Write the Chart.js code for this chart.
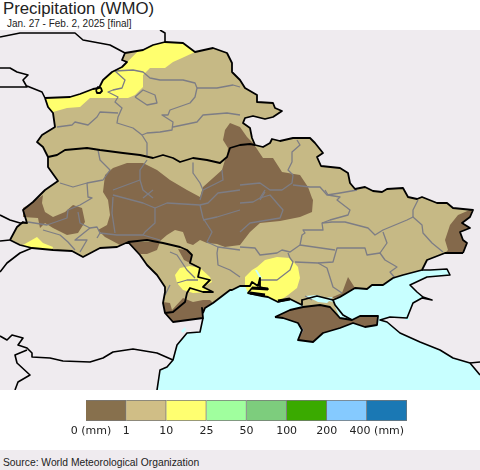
<!DOCTYPE html>
<html>
<head>
<meta charset="utf-8">
<title>Precipitation (WMO)</title>
<script src="https://cdn.jsdelivr.net/npm/chart.js@4"></script>
<style>
html,body{margin:0;padding:0;background:#fff;}
#page{position:relative;width:480px;height:470px;overflow:hidden;font-family:"Liberation Sans",Arial,sans-serif;color:#222;}
#page canvas{position:absolute;}
#mapChart{left:0;top:30px;background:#efebef;}
#keyChart{left:60px;top:395px;}
#title{position:absolute;left:3px;top:-3px;font-size:16.8px;line-height:24px;}
#period{position:absolute;left:7px;top:17px;font-size:10px;line-height:14px;}
#footer{position:absolute;left:0;top:450px;width:480px;height:20px;background:#efebef;}
#source{position:absolute;left:3px;top:456px;font-size:10.3px;line-height:14px;}
</style>
</head>
<body>
<div id="page">
  <div id="title">Precipitation (WMO)</div>
  <div id="period">Jan. 27 - Feb. 2, 2025 [final]</div>
  <canvas id="mapChart" width="480" height="360"></canvas>
  <canvas id="keyChart" width="360" height="55"></canvas>
  <div id="footer"></div>
  <div id="source">Source: World Meteorological Organization</div>
</div>
<script>
// key categories
const binLabels = ["0 (mm)","1","10","25","50","100","200","400 (mm)"];
const binColors = ["#87704d","#d0be86","#ffff70","#a0ff9e","#7dcd7d","#3aaa00","#85caff","#1a78b4"];
const binWidths = [1,1,1,1,1,1,1,1];

// map colours
const LAND_TAN = "#c6b985", DRY_BROWN = "#84694b", WET_YELLOW = "#ffff6e", SEA = "#c8ffff";

// outlines, map units
const borderNorth = [[45,98],[70,97],[80,94],[93,89],[99,88],[103,80],[112,72],[122,67],[127,62],[122,60],[125,53],[143,50],[153,45],[165,42],[183,43],[195,52],[213,48],[227,53],[232,63],[232,72],[238,78],[240,80],[245,88],[257,95],[257,102],[273,103],[275,108],[282,111],[273,117],[265,119],[253,116],[245,118],[243,123],[250,128],[252,138],[255,145],[263,147],[270,143],[272,139],[280,141],[293,138],[310,138],[315,143],[323,153],[317,157],[321,166],[340,168],[348,173],[350,183],[355,189],[365,187],[373,191],[382,192],[387,189],[403,188],[408,197],[417,199],[422,197],[437,203],[447,203],[453,208],[473,210],[470,217],[462,223],[470,228],[460,232],[463,240],[467,243],[463,253]];
const coastSouth = [[463,253],[445,253],[427,260],[422,270],[403,275],[393,278],[383,285],[372,285],[367,289],[355,288],[340,297],[333,300],[325,298],[317,296],[302,300],[302,305],[290,299],[278,302],[268,297],[262,296],[248,293],[252,288],[268,289],[260,287],[260,278],[258,286],[252,282],[250,286],[240,286],[232,290],[230,290],[213,303],[205,308],[203,313],[202,308],[203,318],[173,322],[165,313],[163,303],[165,292],[165,287],[157,275],[147,265],[140,255],[128,242],[117,247],[100,248],[83,257],[72,251],[53,250],[32,248],[20,245],[10,240]];
const borderWest = [[10,240],[17,227],[23,222],[27,223],[23,210],[33,202],[45,190],[58,181],[48,167],[48,157],[43,147],[37,142],[42,135],[55,127],[53,113],[48,107],[45,98]];
const crimea = [[275,317],[290,310],[303,307],[320,305],[330,307],[340,318],[352,320],[360,316],[378,316],[377,325],[365,327],[353,323],[340,328],[323,333],[313,342],[298,340],[302,330],[298,323],[283,318],[275,317]];
const arabatSpit = [[333,300],[335,305],[343,315],[352,320]];
const belarusBorder = [[48,157],[57,155],[65,150],[87,148],[100,150],[123,153],[140,155],[153,158],[163,155],[173,158],[180,162],[193,158],[207,160],[220,163],[227,157],[230,148],[240,145],[250,144],[255,145]];
const moldovaBorder = [[128,242],[147,240],[163,243],[180,247],[187,250],[192,255],[190,263],[200,268],[198,277],[210,280],[203,287],[213,292],[203,292],[190,288],[187,293],[185,302],[173,312],[165,313]];
const limanBars = [[252,288],[268,289]];
const limanSouth = [[250,293],[265,295]];
const kinburn = [[278,301],[290,299]];
const brestRing = [[96,90],[98,87],[101,88],[102,91],[100,93],[97,93],[96,90]];

// neighbouring countries
const neighbourLines = [
  [[0,37],[20,33],[40,33],[63,33],[75,33],[83,40],[110,45],[125,53]],
  [[160,30],[165,33],[165,42]],
  [[0,68],[10,68],[17,72],[28,75],[23,80],[27,87],[0,87]],
  [[27,86],[42,92],[45,98]],
  [[0,215],[10,220],[20,223],[27,223]],
  [[0,241],[10,240]],
  [[32,248],[20,253],[7,263],[0,272]],
  [[0,336],[7,340],[12,335],[23,338],[18,345],[27,348],[32,353],[32,357],[50,358],[63,361],[90,362],[103,358],[113,352],[133,349],[157,353],[173,360]],
  [[27,350],[15,355],[17,363],[30,375],[18,382],[15,390]],
  [[157,390],[160,370],[167,367],[173,360],[177,345],[187,333],[200,332],[203,318]],
  [[480,375],[470,363],[453,358],[440,350],[420,342],[400,333],[387,322],[380,320],[390,317],[407,318],[413,303],[422,298],[432,300],[423,297],[417,292],[410,285],[427,277],[450,275],[447,269],[430,270],[422,270]],
  [[470,363],[480,362]]
];

// sea behind the coast
const seaShape = [[157,390],[160,370],[167,367],[173,360],[177,345],[187,333],[200,332],[203,318],[205,295],[235,278],[300,285],[370,280],[403,272],[422,270],[430,270],[447,269],[450,275],[427,277],[410,285],[417,292],[423,297],[432,300],[422,298],[413,303],[407,318],[390,317],[380,320],[387,322],[400,333],[420,342],[440,350],[453,358],[470,363],[480,375],[480,390]];

// rainfall patches
const yellowNorth = [[45,98],[70,97],[80,94],[93,89],[99,88],[103,80],[112,72],[122,67],[127,62],[130,59],[138,51],[143,50],[153,45],[165,42],[183,43],[195,52],[182,58],[173,62],[165,68],[150,68],[143,75],[143,87],[135,95],[128,98],[100,98],[90,98],[80,107],[67,108],[53,112],[48,107]];
const yellowCarpath = [[23,245],[37,237],[43,243],[53,247],[52,250],[32,248]];
const yellowOdesa = [[175,275],[180,268],[190,266],[200,268],[210,277],[212,282],[203,287],[213,292],[193,293],[183,290],[177,283]];
const yellowKherson = [[245,286],[245,277],[252,270],[257,267],[265,260],[277,257],[290,258],[298,267],[300,278],[297,288],[288,295],[278,302],[268,297],[262,296],[248,293]];
const brownCentre = [[225,160],[222,170],[203,187],[200,197],[187,190],[170,180],[157,170],[143,163],[127,163],[113,168],[105,175],[103,192],[108,200],[110,215],[107,225],[98,230],[105,237],[120,245],[128,241],[160,241],[167,235],[175,230],[183,232],[187,243],[193,245],[200,240],[207,243],[217,244],[225,247],[240,245],[250,232],[260,223],[280,221],[300,217],[312,212],[313,200],[312,198],[308,187],[300,175],[282,172],[273,158],[263,158],[253,143],[247,137],[240,127],[230,123],[225,130],[223,140],[228,148],[227,157]];
const brownMoldovaNorth = [[128,242],[140,254],[147,254],[157,250],[160,242]];
const brownMoldovaEast = [[178,249],[187,250],[192,255],[190,263],[184,260]];
const brownWest = [[43,195],[33,202],[23,208],[23,217],[38,218],[40,228],[45,223],[53,228],[67,235],[78,233],[85,222],[82,208],[73,205],[65,212],[53,217],[45,212],[42,203]];
const brownDanube = [[163,302],[170,303],[172,310],[183,298],[193,302],[203,300],[210,300],[213,303],[205,308],[203,313],[202,308],[203,318],[173,322],[165,313]];
const brownAzov = [[348,277],[355,288],[340,297],[328,299],[342,293],[345,285]];
const brownDonbas = [[472,209],[458,215],[450,225],[445,240],[448,250],[445,253],[463,253],[467,243],[463,240],[460,232],[470,228],[462,223],[470,217]];
const tanPale = [[122,60],[125,53],[138,51],[130,59],[127,62]];
const tanCrimeaNorth = [[303,307],[302,300],[317,296],[325,300],[333,302],[340,318],[330,307],[320,305]];
const cyanSivash = [[305,296],[317,295],[325,298],[333,297],[327,303],[318,302],[310,298]];
const cyanDnipro = [[255,270],[257,270],[262,278],[260,279]];
const cyanLake = [[181,331],[185,327],[186,330],[183,333]];
const cyanTaman = [[405,316],[409,315],[409,320],[405,320]];

// oblast and voblast lines
const regionLines = [
  [[115,71],[133,70],[143,72],[150,78],[160,80],[170,80],[183,80],[195,83],[197,88],[195,97],[190,103],[170,110],[168,115],[162,115],[173,122],[172,130],[160,132],[147,133],[142,135],[147,143],[147,155]],
  [[197,88],[217,88],[233,85],[240,87]],
  [[173,127],[197,122],[203,115],[227,113],[240,115]],
  [[115,71],[125,80],[122,88],[113,90],[108,92],[118,97],[115,102],[122,108],[118,117],[117,123],[133,128],[142,135]],
  [[57,127],[72,125],[75,122],[88,125],[97,117],[100,112],[118,113]],
  [[135,97],[143,90],[155,95],[157,103],[147,105],[135,97]],
  [[98,150],[100,160],[110,170],[103,180],[87,183],[73,187],[60,183]],
  [[87,183],[88,197],[92,198],[80,205],[68,210],[67,218],[47,225],[28,222]],
  [[147,160],[140,170],[140,180],[143,190],[153,198]],
  [[113,190],[140,180]],
  [[193,163],[193,173],[200,183],[203,190],[200,200]],
  [[222,170],[223,180],[213,185],[203,190]],
  [[78,212],[80,223],[90,228],[97,227],[100,233],[117,235],[143,235],[160,240]],
  [[43,230],[60,235],[68,242],[75,250]],
  [[90,228],[75,240],[87,240],[80,252]],
  [[97,238],[100,233]],
  [[113,197],[112,213],[115,233]],
  [[113,195],[143,203],[155,208],[155,223],[145,232],[143,235]],
  [[143,198],[153,190]],
  [[155,208],[167,203],[200,205],[203,218],[212,232],[207,242],[218,247],[240,250]],
  [[200,205],[208,203],[218,193],[240,190]],
  [[203,220],[217,217],[240,210]],
  [[170,252],[177,255],[187,270],[195,278]],
  [[177,283],[187,280],[198,280]],
  [[170,285],[165,295]],
  [[218,247],[217,253],[218,265],[230,270],[240,277]],
  [[325,190],[328,195],[340,197],[337,200],[350,210],[348,215],[330,220],[322,223],[323,230],[303,230],[305,233],[302,235],[300,245],[290,252],[282,250],[277,253],[260,255],[255,248],[240,247]],
  [[288,253],[290,258],[293,262],[290,270],[277,280],[260,280]],
  [[295,262],[318,263],[327,268],[333,287],[342,293]],
  [[318,263],[333,262],[337,248],[365,248],[367,255],[380,253],[385,260],[397,267],[390,272],[395,278]],
  [[335,250],[300,245]],
  [[322,223],[332,222],[345,222],[368,228],[375,235],[383,230],[407,220],[413,217],[422,225],[423,233],[432,243],[443,252]],
  [[383,232],[387,243],[380,253]],
  [[413,217],[413,210],[418,200]],
  [[240,203],[253,202],[260,198],[265,190]],
  [[260,198],[270,195],[283,210],[280,218],[250,223],[240,232]],
  [[297,140],[300,145],[292,152],[292,162],[288,170],[293,175],[292,183],[282,190],[270,190],[260,183],[240,185]],
  [[293,185],[310,187],[320,187],[327,195],[340,193],[357,190]],
  [[265,192],[260,200]],
  [[305,296],[312,300]],
  [[298,323],[303,330],[300,336]]
];

const xy = pts => pts.map(p => ({x:p[0],y:p[1]}));

function shape(pts,color){
  return {data:xy(pts),showLine:true,fill:"shape",backgroundColor:color,borderWidth:0,pointRadius:0,tension:0};
}
function stroke(pts,color,width){
  return {data:xy(pts),showLine:true,fill:false,borderColor:color,borderWidth:width,pointRadius:0,tension:0,borderJoinStyle:"round"};
}

const outerShape = borderNorth.concat(coastSouth,borderWest);
const layers = [
  shape(seaShape,SEA),
  shape(outerShape,LAND_TAN),
  shape(tanCrimeaNorth,LAND_TAN),
  shape(crimea,DRY_BROWN),
  shape(brownCentre,DRY_BROWN),
  shape(brownMoldovaNorth,DRY_BROWN),
  shape(brownMoldovaEast,DRY_BROWN),
  shape(brownWest,DRY_BROWN),
  shape(brownDanube,DRY_BROWN),
  shape(brownAzov,DRY_BROWN),
  shape(brownDonbas,DRY_BROWN),
  shape(yellowNorth,WET_YELLOW),
  shape(tanPale,LAND_TAN),
  shape(yellowCarpath,WET_YELLOW),
  shape(yellowOdesa,WET_YELLOW),
  shape(yellowKherson,WET_YELLOW),
  shape(cyanSivash,SEA),
  shape(cyanDnipro,SEA),
  shape(cyanLake,SEA),
  shape(cyanTaman,SEA)
];
regionLines.forEach(l => layers.push(stroke(l,"#7d7d85",1.3)));
neighbourLines.forEach(l => layers.push(stroke(l,"#000",1.6)));
[borderNorth,coastSouth,borderWest,crimea,arabatSpit,belarusBorder,moldovaBorder,brestRing].forEach(l => layers.push(stroke(l,"#000",1.8)));
[limanBars,limanSouth,kinburn].forEach(l => layers.push(stroke(l,"#000",3)));
// chart.js paints low order last, keep list order as paint order
layers.forEach((d,i) => d.order = layers.length - i);

new Chart(document.getElementById("mapChart"),{
  type:"scatter",
  data:{datasets:layers},
  options:{
    responsive:false,animation:false,devicePixelRatio:1,
    layout:{padding:0},
    plugins:{legend:{display:false},tooltip:{enabled:false}},
    scales:{
      x:{type:"linear",min:0,max:480,display:false},
      y:{type:"linear",min:30,max:390,reverse:true,display:false}
    }
  }
});

// key bar labels sit on the bin edges
const keyText = {
  id:"keyText",
  afterDraw(chart){
    const {ctx,scales:{x},chartArea} = chart;
    ctx.save();
    ctx.font = "11px 'DejaVu Sans'";
    ctx.fillStyle = "#222";
    ctx.textAlign = "center";
    ctx.textBaseline = "middle";
    binLabels.forEach((t,i) => {
      const shift = i === 0 ? 5 : i === binLabels.length-1 ? 10 : 0;
      ctx.fillText(t,x.getPixelForValue(i)+shift,chartArea.bottom+10);
    });
    ctx.restore();
  }
};

new Chart(document.getElementById("keyChart"),{
  type:"bar",
  data:{
    labels:["key"],
    datasets:binWidths.map((w,i) => ({data:[w],backgroundColor:binColors[i],borderColor:"#777",borderWidth:1,barPercentage:1,categoryPercentage:1}))
  },
  options:{
    indexAxis:"y",responsive:false,animation:false,devicePixelRatio:1,
    layout:{padding:{left:26,right:13,top:5,bottom:29}},
    plugins:{legend:{display:false},tooltip:{enabled:false}},
    scales:{
      x:{stacked:true,min:0,max:8,display:false},
      y:{stacked:true,display:false}
    }
  },
  plugins:[keyText]
});
</script>
</body>
</html>
